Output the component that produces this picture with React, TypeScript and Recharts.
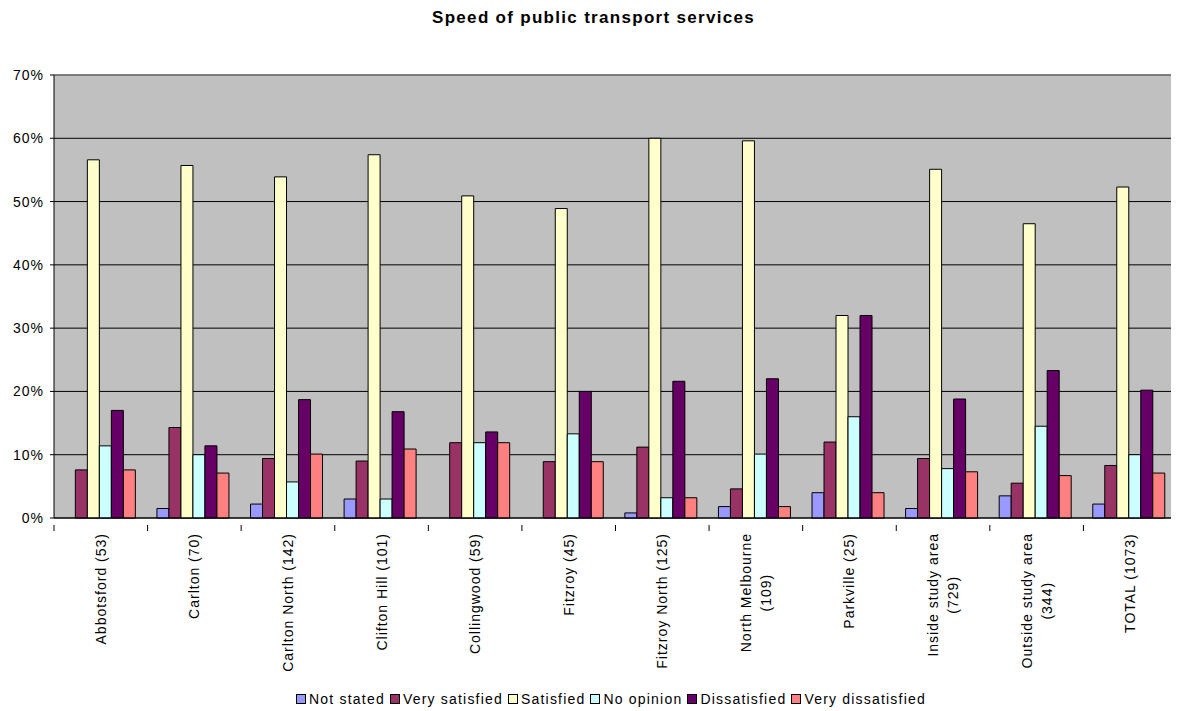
import React from "react";
import { BarChart, Bar, XAxis, YAxis, CartesianGrid, Legend } from "recharts";

const categories = [
  "Abbotsford (53)",
  "Carlton (70)",
  "Carlton North (142)",
  "Clifton Hill (101)",
  "Collingwood (59)",
  "Fitzroy (45)",
  "Fitzroy North (125)",
  "North Melbourne (109)",
  "Parkville (25)",
  "Inside study area (729)",
  "Outside study area (344)",
  "TOTAL (1073)",
];

const notStated = [0, 1.5, 2.2, 3.0, 0, 0, 0.8, 1.8, 4.0, 1.5, 3.5, 2.2];
const verySatisfied = [7.6, 14.3, 9.4, 9.0, 11.9, 8.9, 11.2, 4.6, 12.0, 9.4, 5.5, 8.3];
const satisfied = [56.6, 55.7, 53.9, 57.4, 50.9, 48.9, 60.0, 59.6, 32.0, 55.1, 46.5, 52.3];
const noOpinion = [11.4, 10.0, 5.7, 3.0, 11.9, 13.3, 3.2, 10.1, 16.0, 7.8, 14.5, 10.0];
const dissatisfied = [17.0, 11.4, 18.7, 16.8, 13.6, 20.0, 21.6, 22.0, 32.0, 18.8, 23.3, 20.2];
const veryDissatisfied = [7.6, 7.1, 10.1, 10.9, 11.9, 8.9, 3.2, 1.8, 4.0, 7.3, 6.7, 7.1];

const yTicks = [0, 10, 20, 30, 40, 50, 60, 70];

const seriesNames = [
  "Not stated",
  "Very satisfied",
  "Satisfied",
  "No opinion",
  "Dissatisfied",
  "Very dissatisfied",
];
const seriesKeys = ["ns", "vs", "s", "no", "d", "vd"];
const seriesColors = ["#9999FF", "#993366", "#FFFFCC", "#CCFFFF", "#660066", "#FF8080"];

const data = categories.map((name, i) => ({
  name,
  ns: notStated[i],
  vs: verySatisfied[i],
  s: satisfied[i],
  no: noOpinion[i],
  d: dissatisfied[i],
  vd: veryDissatisfied[i],
}));

const FONT = "Arial, 'Liberation Sans', sans-serif";
const LABEL_SIZE = 14;
const LABEL_SPACING = 1;

let measureCtx: CanvasRenderingContext2D | null = null;
function measure(text: string): number {
  if (typeof document !== "undefined" && !measureCtx) {
    const c = document.createElement("canvas");
    measureCtx = c.getContext("2d");
  }
  if (measureCtx) {
    measureCtx.font = `${LABEL_SIZE}px Arial, 'Liberation Sans', sans-serif`;
    return measureCtx.measureText(text).width + text.length * LABEL_SPACING;
  }
  return text.length * (LABEL_SIZE * 0.55 + LABEL_SPACING);
}

function wrapLabel(label: string): string[] {
  if (label.length <= 20) return [label];
  const idx = label.lastIndexOf(" (");
  return [label.slice(0, idx), label.slice(idx + 1)];
}

const XTick = (props: any) => {
  const { x, y, payload, index } = props;
  const half = payload && payload.offset ? payload.offset : 46.8;
  const lines = wrapLabel(String(payload.value));
  const lh = 20;
  const base = 5 - ((lines.length - 1) * lh) / 2;
  const maxW = Math.max(...lines.map(measure));
  const mid = -(7 + maxW / 2);
  return (
    <g transform={`translate(${x},${y})`}>
      <line x1={-half} y1={-1} x2={-half} y2={5} stroke="#000" strokeWidth={1} />
      {index === categories.length - 1 && (
        <line x1={half} y1={-1} x2={half} y2={5} stroke="#000" strokeWidth={1} />
      )}
      <text
        transform="rotate(-90)"
        textAnchor="middle"
        fontFamily={FONT}
        fontSize={LABEL_SIZE}
        letterSpacing={LABEL_SPACING}
        fill="#000"
      >
        {lines.map((l, i) => (
          <tspan key={i} x={mid} y={base + i * lh}>
            {l}
          </tspan>
        ))}
      </text>
    </g>
  );
};

const LegendContent = () => (
  <div
    style={{
      display: "flex",
      justifyContent: "center",
      alignItems: "center",
      fontFamily: FONT,
      fontSize: 14,
      letterSpacing: 1.2,
      color: "#000",
      paddingLeft: 42,
      height: 25,
    }}
  >
    {seriesNames.map((n, i) => (
      <div key={n} style={{ display: "flex", alignItems: "center", marginRight: 5 }}>
        <span
          style={{
            display: "inline-block",
            width: 8,
            height: 8,
            background: seriesColors[i],
            border: "1px solid #000",
            marginRight: 3,
          }}
        />
        <span>{n}</span>
      </div>
    ))}
  </div>
);

export default function App() {
  return (
    <div style={{ position: "relative", width: 1171, height: 703 }}>
      <div
        style={{
          position: "absolute",
          top: 0,
          left: 0,
          width: 1171,
          textAlign: "center",
          fontFamily: FONT,
          fontWeight: "bold",
          fontSize: 17,
          letterSpacing: 1.3,
          lineHeight: "20px",
          color: "#000",
        }}
      >
        Speed of public transport services
      </div>
      <BarChart
        width={1171}
        height={703}
        data={data}
        margin={{ top: 67, right: 2, left: 0, bottom: 0 }}
        barCategoryGap="10%"
        barGap={0}
      >
        <CartesianGrid
          vertical={false}
          stroke="#000"
          fill="#C0C0C0"
          fillOpacity={1}
        />
        <CartesianGrid
          horizontal={true}
          vertical={true}
          stroke="#808080"
          strokeWidth={1.5}
          horizontalCoordinatesGenerator={({ offset }: any) => [offset.top]}
          verticalCoordinatesGenerator={({ offset }: any) => [offset.left + offset.width]}
        />
        <XAxis
          dataKey="name"
          interval={0}
          height={168}
          tickLine={false}
          axisLine={{ stroke: "#000" }}
          tick={<XTick />}
        />
        <YAxis
          width={46}
          domain={[0, 70]}
          ticks={yTicks}
          interval={0}
          tickFormatter={(v: number) => `${v}%`}
          tickSize={4}
          tickMargin={6}
          axisLine={{ stroke: "#000" }}
          tickLine={{ stroke: "#000" }}
          tick={{ fontFamily: FONT, fontSize: 14, letterSpacing: 1, fill: "#000" }}
        />
        <Legend verticalAlign="bottom" height={25} content={<LegendContent />} />
        {seriesKeys.map((k, i) => (
          <Bar
            key={k}
            dataKey={k}
            name={seriesNames[i]}
            fill={seriesColors[i]}
            stroke="#000"
            strokeWidth={1}
            isAnimationActive={false}
          />
        ))}
      </BarChart>
    </div>
  );
}
